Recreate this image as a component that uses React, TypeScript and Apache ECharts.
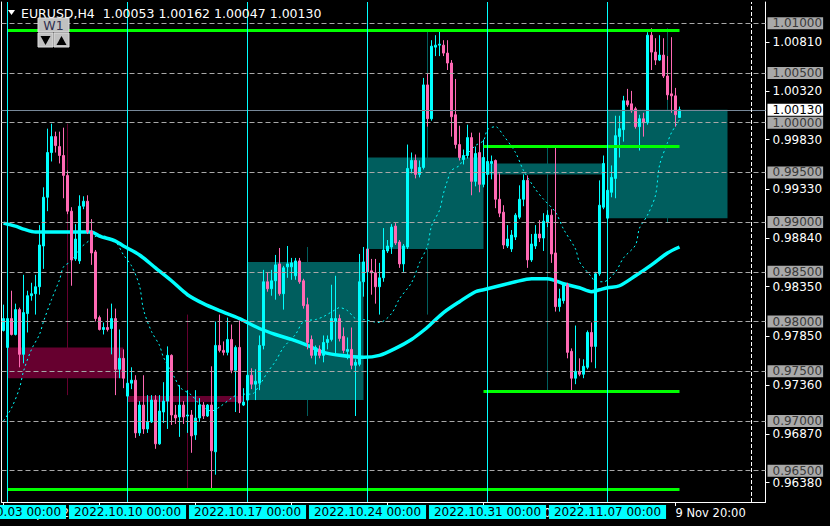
import React, { useEffect, useRef } from 'react';
import * as echarts from 'echarts';

const FONT = '"DejaVu Sans", Verdana, sans-serif';

// slot indices on the time axis (H4 bars, plus empty space on the right)
const slotCount = 191;
const slots = Array.from({ length: slotCount }, (_, i) => String(i));

// H4 candles: [open, close, low, high], first bar 30 Sep 20:00
const candles: number[][] = [
  [0.9791, 0.9803, 0.979, 0.9817],
  [0.9774, 0.9803, 0.9773, 0.9805], [0.9803, 0.9787, 0.9786, 0.9831], [0.9787, 0.9812, 0.9786, 0.9818],
  [0.9812, 0.9767, 0.9754, 0.9814], [0.9767, 0.9809, 0.9758, 0.9847], [0.9808, 0.9826, 0.9789, 0.9831],
  [0.9826, 0.9828, 0.9821, 0.9839], [0.9828, 0.9835, 0.9807, 0.9847], [0.9835, 0.9877, 0.9827, 0.9897],
  [0.9876, 0.9925, 0.9853, 0.9935], [0.9925, 0.997, 0.9911, 0.9994], [0.997, 0.9986, 0.9961, 0.9999],
  [0.9986, 0.9977, 0.997, 0.9991], [0.9976, 0.9967, 0.9959, 0.9991], [0.9967, 0.9947, 0.9924, 0.9995],
  [0.9947, 0.9911, 0.9908, 0.9952], [0.9911, 0.9862, 0.9836, 0.9915], [0.9863, 0.9883, 0.9861, 0.9898],
  [0.9861, 0.9916, 0.9858, 0.9927], [0.9916, 0.9921, 0.9913, 0.9926], [0.9921, 0.989, 0.9888, 0.9927],
  [0.9891, 0.9869, 0.9857, 0.9903], [0.987, 0.9803, 0.98, 0.9872], [0.9804, 0.9792, 0.9791, 0.9806],
  [0.9792, 0.9794, 0.9787, 0.9799], [0.9794, 0.9792, 0.979, 0.9813], [0.9793, 0.9803, 0.9767, 0.9818],
  [0.9803, 0.9752, 0.9726, 0.9813], [0.9752, 0.9763, 0.9743, 0.9792], [0.9763, 0.9743, 0.9733, 0.9772],
  [0.9725, 0.9738, 0.9722, 0.9745], [0.9738, 0.9741, 0.9732, 0.9754], [0.9741, 0.9688, 0.9683, 0.9746],
  [0.9688, 0.9716, 0.9685, 0.972], [0.9716, 0.9692, 0.9687, 0.9746], [0.9692, 0.9699, 0.9688, 0.9726],
  [0.9699, 0.9721, 0.9698, 0.9726], [0.9721, 0.9677, 0.9672, 0.9726], [0.9677, 0.971, 0.9676, 0.9726],
  [0.9709, 0.972, 0.9698, 0.9739], [0.972, 0.9766, 0.9692, 0.9775], [0.9766, 0.9706, 0.9696, 0.9767],
  [0.9706, 0.9703, 0.9697, 0.9716], [0.9704, 0.9716, 0.9684, 0.9736], [0.9716, 0.9704, 0.9697, 0.972],
  [0.9705, 0.9706, 0.9688, 0.9731], [0.9706, 0.9685, 0.9668, 0.9711], [0.9686, 0.9703, 0.9681, 0.9731],
  [0.9703, 0.9716, 0.9699, 0.9723], [0.9716, 0.9705, 0.9702, 0.9719], [0.9705, 0.9716, 0.9704, 0.9717],
  [0.9716, 0.967, 0.9632, 0.9755], [0.9669, 0.9776, 0.9646, 0.98], [0.9776, 0.9771, 0.9769, 0.9807],
  [0.9771, 0.9769, 0.9766, 0.978], [0.9769, 0.9782, 0.9766, 0.9804], [0.9782, 0.9751, 0.9748, 0.9797],
  [0.9751, 0.9774, 0.9709, 0.9776], [0.9774, 0.9718, 0.9708, 0.9801], [0.9716, 0.9719, 0.9715, 0.9733],
  [0.9721, 0.9746, 0.9714, 0.9752], [0.9746, 0.9737, 0.9732, 0.9753], [0.9737, 0.974, 0.9721, 0.9752],
  [0.9738, 0.9776, 0.9731, 0.9786], [0.9776, 0.984, 0.9772, 0.9852], [0.984, 0.9833, 0.983, 0.9849],
  [0.9833, 0.9841, 0.9826, 0.9852], [0.9841, 0.9857, 0.9822, 0.9867], [0.9858, 0.9828, 0.9826, 0.9874],
  [0.9828, 0.9854, 0.9812, 0.9856], [0.9855, 0.9858, 0.9844, 0.9876], [0.9855, 0.9859, 0.9842, 0.9864],
  [0.9846, 0.9861, 0.9842, 0.9864], [0.9861, 0.984, 0.9838, 0.9864], [0.9841, 0.9816, 0.9813, 0.9843],
  [0.9817, 0.9779, 0.9772, 0.9824], [0.9782, 0.9766, 0.9763, 0.9786], [0.9766, 0.9774, 0.9757, 0.9776],
  [0.9772, 0.9766, 0.9763, 0.9776], [0.9766, 0.9779, 0.9759, 0.9786], [0.9779, 0.9782, 0.9772, 0.9786],
  [0.9782, 0.9803, 0.978, 0.9837], [0.98, 0.9803, 0.9768, 0.9846], [0.9803, 0.9783, 0.978, 0.9807],
  [0.9785, 0.9771, 0.9768, 0.9794], [0.977, 0.9772, 0.9762, 0.9784], [0.9772, 0.9756, 0.9752, 0.9794],
  [0.9756, 0.9759, 0.9705, 0.9762], [0.9757, 0.984, 0.9755, 0.9868], [0.984, 0.986, 0.9825, 0.9875],
  [0.9873, 0.985, 0.9848, 0.9876], [0.9851, 0.9849, 0.9827, 0.9863], [0.9849, 0.9835, 0.9818, 0.9863],
  [0.9835, 0.9844, 0.9807, 0.9859], [0.9844, 0.9872, 0.984, 0.9894], [0.9871, 0.9876, 0.9869, 0.9882],
  [0.9875, 0.9895, 0.9868, 0.9898], [0.9896, 0.9879, 0.9877, 0.9899], [0.988, 0.9858, 0.9854, 0.9882],
  [0.9858, 0.9876, 0.985, 0.9878], [0.9875, 0.9954, 0.9873, 0.9978], [0.9954, 0.9962, 0.9949, 0.997],
  [0.9962, 0.9948, 0.9944, 0.9968], [0.9948, 0.9955, 0.9945, 0.9962], [0.9955, 1.0038, 0.9953, 1.0045],
  [1.0038, 1.0004, 0.9996, 1.0049], [1.0004, 1.0077, 1.0002, 1.0083], [1.0076, 1.0078, 1.0067, 1.0088],
  [1.0078, 1.0079, 1.0067, 1.0093], [1.0078, 1.007, 1.0067, 1.0083], [1.007, 1.006, 1.0053, 1.0083],
  [1.006, 1.0006, 0.9986, 1.0063], [1.0008, 0.9978, 0.9974, 1.0044], [0.9978, 0.9965, 0.9962, 0.9997],
  [0.9963, 0.9967, 0.9958, 0.9973], [0.9967, 0.9985, 0.9964, 0.9998], [0.9985, 0.9941, 0.9927, 0.999],
  [0.9941, 0.9969, 0.9936, 0.9976], [0.997, 0.9938, 0.993, 0.999], [0.9938, 0.9965, 0.9935, 0.9983],
  [0.9948, 0.9961, 0.9943, 0.9967], [0.9959, 0.9961, 0.9943, 0.9967], [0.9962, 0.9923, 0.9914, 0.9963],
  [0.9923, 0.9909, 0.9905, 0.9949], [0.991, 0.9877, 0.9873, 0.9917], [0.9876, 0.9883, 0.9874, 0.9897],
  [0.9873, 0.9887, 0.987, 0.9892], [0.9885, 0.9907, 0.9882, 0.9909], [0.9905, 0.9923, 0.9903, 0.9937],
  [0.9923, 0.9942, 0.9916, 0.9948], [0.9942, 0.9862, 0.9854, 0.9947], [0.9862, 0.9878, 0.986, 0.9888],
  [0.9876, 0.9888, 0.9873, 0.9897], [0.9888, 0.9884, 0.988, 0.9902], [0.9884, 0.9901, 0.9871, 0.9909],
  [0.99, 0.9907, 0.9895, 0.9912], [0.9907, 0.9868, 0.9859, 0.9913], [0.9869, 0.9815, 0.981, 0.9976],
  [0.9815, 0.9823, 0.981, 0.9833], [0.9821, 0.9837, 0.9818, 0.9838], [0.9837, 0.9769, 0.9763, 0.9839],
  [0.977, 0.9743, 0.9731, 0.9773], [0.9743, 0.975, 0.9737, 0.9796], [0.975, 0.9747, 0.9745, 0.9763],
  [0.9747, 0.9755, 0.9743, 0.9762], [0.9754, 0.9789, 0.9752, 0.9791], [0.9789, 0.9775, 0.9759, 0.9799],
  [0.9775, 0.9848, 0.9753, 0.985], [0.9848, 0.9917, 0.9846, 0.9942], [0.9915, 0.9959, 0.9913, 0.9967],
  [0.9904, 0.9932, 0.99, 0.9935], [0.993, 0.9945, 0.9925, 0.9957], [0.9944, 0.9987, 0.9924, 1.0007],
  [0.9986, 0.9994, 0.9965, 1.0007], [0.9993, 1.0022, 0.9981, 1.0027], [1.0022, 1.0018, 1.0016, 1.0034],
  [1.0019, 1.0012, 1.001, 1.0032], [1.0014, 0.9996, 0.9994, 1.0016], [0.9996, 1.0004, 0.9972, 1.0008],
  [1.0004, 1.0, 0.9986, 1.001], [1.0, 1.0088, 0.9998, 1.0091], [1.0088, 1.0071, 1.0053, 1.0095],
  [1.0071, 1.0063, 1.0058, 1.0085], [1.0063, 1.0068, 1.0062, 1.0088], [1.0068, 1.0047, 1.0045, 1.0085],
  [1.0047, 1.0028, 1.0023, 1.0067], [1.0029, 1.0027, 1.001, 1.0086], [1.0027, 1.0008, 0.9996, 1.0035],
  [1.00053, 1.0013, 1.00047, 1.00162],
];

// weekly candles overlay: [firstSlot, lastSlot, open, close, high, low]
const weekly: number[][] = [
  [1, 30, 0.9774, 0.9743, 0.9999, 0.9726],
  [31, 60, 0.9725, 0.9719, 0.9807, 0.9632],
  [61, 90, 0.9721, 0.986, 0.9875, 0.9705],
  [91, 120, 0.9873, 0.9965, 1.0093, 0.9807],
  [121, 150, 0.9948, 0.9959, 0.9976, 0.9731],
  [151, 181, 0.9904, 1.0013, 1.0095, 0.99],
];

// slow moving average (thick), sampled as [slot, value]
const maSlow: number[][] = [
  [0, 0.9899], [3, 0.9896], [5, 0.9893], [8, 0.989], [14, 0.989], [22, 0.989], [24, 0.9886],
  [28, 0.9881], [30, 0.9876], [34, 0.9867], [38, 0.9854], [42, 0.9841], [46, 0.9827], [50, 0.9818],
  [54, 0.9811], [59, 0.9803], [64, 0.9793], [68, 0.9787], [72, 0.9782], [76, 0.9776], [80, 0.9769],
  [84, 0.9766], [90, 0.9764], [94, 0.9766], [98, 0.9773], [102, 0.9782], [105, 0.9791], [107, 0.9798],
  [110, 0.9809], [114, 0.982], [118, 0.983], [120, 0.9832], [124, 0.9836], [128, 0.984], [132, 0.9843],
  [136, 0.9843], [140, 0.9838], [144, 0.9834], [147, 0.983], [149, 0.9832], [151, 0.9834], [154, 0.9836],
  [158, 0.9846], [162, 0.9857], [166, 0.9869], [169, 0.9875],
];

// fast moving average (dotted), sampled as [slot, value]
const maFast: number[][] = [
  [0, 0.97], [2, 0.9713], [4, 0.9733], [5, 0.975], [7, 0.9772], [9, 0.9787], [10, 0.98], [12, 0.9822],
  [14, 0.9842], [15, 0.9855], [17, 0.9861], [19, 0.9873], [22, 0.9883], [24, 0.9887], [28, 0.988],
  [30, 0.9867], [32, 0.9856], [34, 0.9836], [35, 0.9812], [37, 0.979], [39, 0.9776], [40, 0.9764],
  [43, 0.9742], [44, 0.9734], [47, 0.9726], [49, 0.9717], [52, 0.971], [54, 0.9714], [57, 0.9723],
  [59, 0.9727], [62, 0.9727], [64, 0.9736], [66, 0.9749], [68, 0.976], [70, 0.9774], [73, 0.9787],
  [75, 0.98], [78, 0.9802], [80, 0.9805], [83, 0.9812], [84, 0.9814], [86, 0.9811], [88, 0.9803],
  [90, 0.9802], [94, 0.9799], [97, 0.9808], [99, 0.9823], [102, 0.9839], [104, 0.9859], [106, 0.9876],
  [107, 0.9896], [109, 0.9912], [110, 0.9929], [111, 0.9942], [112, 0.9952], [114, 0.9957], [115, 0.9964],
  [118, 0.9977], [120, 0.9982], [121, 0.9993], [123, 0.9996], [125, 0.9987], [128, 0.997], [130, 0.9952],
  [133, 0.9933], [135, 0.9923], [138, 0.991], [140, 0.9893], [143, 0.9873], [144, 0.986], [147, 0.9845],
  [148, 0.984], [150, 0.984], [153, 0.985], [155, 0.9864], [158, 0.9877], [159, 0.9894], [161, 0.9907],
  [163, 0.9927], [164, 0.9957], [166, 0.998], [167, 0.999], [169, 1.0003],
];

// horizontal level lines (grey dashed, labelled) and price axis ticks
const levelPrices = [1.01, 1.005, 1.0, 0.995, 0.99, 0.985, 0.98, 0.975, 0.97, 0.965];
const priceTicks = [1.0081, 1.0032, 0.9983, 0.9933, 0.9884, 0.9835, 0.9785, 0.9736, 0.9687, 0.9638];
const bidPrice = 1.0013;

// green range lines: [fromSlot, toSlot, price]
const greenLines: number[][] = [
  [1, 169, 1.0093],
  [1, 169, 0.9631],
  [120, 169, 0.9976],
  [120, 169, 0.973],
];

// time axis ticks
const timeTickSlots = [0, 24, 48, 72, 96, 120, 144, 168];
const timeTickLabels = ['30 Sep 2022', '6 Oct 20:00', '12 Oct 20:00', '18 Oct 20:00', '24 Oct 20:00', '28 Oct 20:00', '3 Nov 20:00', '9 Nov 20:00'];

// weekly separators
const weekLineSlots = [1, 31, 61, 91, 121, 151];
const weekLineLabels = ['2022.10.03 00:00', '2022.10.10 00:00', '2022.10.17 00:00', '2022.10.24 00:00', '2022.10.31 00:00', '2022.11.07 00:00'];
const shiftLineSlot = 187;

const headerText = 'EURUSD,H4  1.00053 1.00162 1.00047 1.00130';

const Y_MIN = 0.96185;
const Y_MAX = 1.01214;

export default function App() {
  const ref = useRef<HTMLDivElement>(null);
  useEffect(() => {
    if (!ref.current) return;
    const chart = echarts.init(ref.current, undefined, { renderer: 'svg' });
    const labelBase = { fontFamily: FONT, fontSize: 12 };
    const option: any = {
      animation: false,
      backgroundColor: '#000000',
      grid: { left: 1.5, top: 2, width: 764, height: 500 },
      xAxis: {
        type: 'category',
        data: slots,
        boundaryGap: true,
        axisLine: { show: true, lineStyle: { color: '#ffffff', width: 1 } },
        axisTick: {
          show: true,
          alignWithLabel: true,
          length: 4,
          interval: (i: number) => timeTickSlots.includes(i),
          lineStyle: { color: '#ffffff' },
        },
        axisLabel: {
          show: true,
          interval: (i: number) => timeTickSlots.includes(i),
          formatter: (_v: string, i: number) => timeTickLabels[timeTickSlots.indexOf(i)] || '',
          color: '#ffffff',
          align: 'left',
          margin: 5,
          ...labelBase,
          fontSize: 11.5,
        },
        splitLine: { show: false },
      },
      yAxis: [
        {
          type: 'value',
          position: 'right',
          min: Y_MIN,
          max: Y_MAX,
          scale: true,
          axisLine: { show: true, lineStyle: { color: '#ffffff' } },
          axisTick: { show: true, length: 4, customValues: priceTicks, lineStyle: { color: '#ffffff' } },
          axisLabel: {
            show: true,
            customValues: priceTicks,
            formatter: (v: number) => v.toFixed(5),
            color: '#ffffff',
            margin: 7,
            ...labelBase,
          },
          splitLine: { show: false },
        },
        {
          type: 'value',
          position: 'left',
          min: Y_MIN,
          max: Y_MAX,
          scale: true,
          axisLine: { show: true, lineStyle: { color: '#ffffff' } },
          axisTick: { show: false },
          axisLabel: { show: false },
          splitLine: { show: false },
        },
      ],
      series: [
        {
          type: 'custom',
          name: 'W1',
          z: 1,
          silent: true,
          clip: false,
          encode: { x: [0, 1], y: [2, 3, 4, 5] },
          data: weekly,
          renderItem: (_p: any, api: any) => {
            const s = api.value(0);
            const e = api.value(1);
            const o = api.value(2);
            const c = api.value(3);
            const h = api.value(4);
            const l = api.value(5);
            const mid = Math.ceil((s + e) / 2);
            const color = c >= o ? '#005e5e' : '#66002f';
            const a = api.coord([s, Math.max(o, c)]);
            const b = api.coord([e, Math.min(o, c)]);
            const ph = api.coord([mid, h]);
            const pl = api.coord([mid, l]);
            return {
              type: 'group',
              children: [
                { type: 'line', shape: { x1: ph[0], y1: ph[1], x2: pl[0], y2: pl[1] }, style: { stroke: color, lineWidth: 1 } },
                { type: 'rect', shape: { x: a[0], y: a[1], width: b[0] - a[0], height: Math.max(1, b[1] - a[1]) }, style: { fill: color } },
              ],
            };
          },
        },
        {
          type: 'line',
          name: 'levels',
          z: 2,
          data: [],
          markLine: {
            silent: true,
            symbol: 'none',
            precision: 5,
            lineStyle: { color: '#a8a8a8', type: [5, 3], width: 1 },
            label: {
              show: true,
              position: 'end',
              distance: 2,
              formatter: (p: any) => Number(p.value).toFixed(5),
              backgroundColor: '#a9a9a9',
              color: '#3a3a3a',
              padding: [0, 1, 0, 5],
              lineHeight: 12,
              ...labelBase,
            },
            data: levelPrices.map((v) => ({ yAxis: v })),
          },
        },
        {
          type: 'line',
          name: 'MA slow',
          z: 3,
          data: maSlow,
          showSymbol: false,
          smooth: 0.3,
          silent: true,
          lineStyle: { color: '#00ffff', width: 3.5 },
        },
        {
          type: 'line',
          name: 'MA fast',
          z: 3,
          data: maFast,
          showSymbol: false,
          smooth: 0.3,
          silent: true,
          lineStyle: { color: '#00ffff', width: 1, type: [2, 3] },
        },
        {
          type: 'candlestick',
          name: 'EURUSD',
          z: 4,
          silent: true,
          barWidth: 2,
          data: candles,
          itemStyle: {
            color: '#00ffff',
            color0: '#ff69b4',
            borderColor: '#00ffff',
            borderColor0: '#ff69b4',
            borderColorDoji: '#00ffff',
            borderWidth: 1,
          },
        },
        {
          type: 'line',
          name: 'objects',
          z: 5,
          data: [],
          markLine: {
            silent: true,
            symbol: 'none',
            precision: 5,
            data: [
              ...greenLines.map((g) => [
                { coord: [g[0], g[2]], lineStyle: { color: '#00ff00', width: 3, type: 'solid' }, label: { show: false } },
                { coord: [g[1], g[2]] },
              ]),
              {
                yAxis: bidPrice,
                lineStyle: { color: '#778899', width: 1, type: 'solid' },
                label: {
                  show: true,
                  position: 'end',
                  distance: 2,
                  formatter: (p: any) => Number(p.value).toFixed(5),
                  backgroundColor: '#ffffff',
                  color: '#000000',
                  padding: [0, 1, 0, 5],
                  lineHeight: 12,
                  ...labelBase,
                },
              },
              ...weekLineSlots.map((s, k) => ({
                xAxis: s,
                name: weekLineLabels[k],
                lineStyle: { color: '#00ffff', width: 1, type: 'solid' },
                label: {
                  show: true,
                  position: 'start',
                  distance: 3,
                  formatter: '{b}',
                  backgroundColor: '#00ffff',
                  color: '#000000',
                  padding: [1, 5, 1, 5],
                  lineHeight: 12,
                  ...labelBase,
                },
              })),
              {
                xAxis: shiftLineSlot,
                lineStyle: { color: '#ffffff', width: 1, type: [4, 2] },
                label: { show: false },
              },
            ],
          },
        },
      ],
      graphic: [
        { type: 'polygon', z: 100, shape: { points: [[8, 10], [15, 10], [11.5, 15]] }, style: { fill: '#ffffff' } },
        {
          type: 'text', z: 100, x: 21, y: 13,
          style: { text: headerText, fill: '#ffffff', fontSize: 12.5, fontFamily: FONT, verticalAlign: 'middle' },
        },
        { type: 'rect', z: 100, shape: { x: 38, y: 18, width: 31, height: 14 }, style: { fill: '#c0c0c0', stroke: '#dcdcdc', lineWidth: 1 } },
        {
          type: 'text', z: 101, x: 53.5, y: 25.5,
          style: { text: 'W1', fill: '#303050', fontSize: 12.5, fontFamily: FONT, align: 'center', verticalAlign: 'middle' },
        },
        { type: 'rect', z: 100, shape: { x: 38, y: 33, width: 15, height: 14 }, style: { fill: '#c0c0c0', stroke: '#dcdcdc', lineWidth: 1 } },
        { type: 'rect', z: 100, shape: { x: 54, y: 33, width: 15, height: 14 }, style: { fill: '#c0c0c0', stroke: '#dcdcdc', lineWidth: 1 } },
        { type: 'polygon', z: 101, shape: { points: [[40.5, 36], [50.5, 36], [45.5, 45]] }, style: { fill: '#000000' } },
        { type: 'polygon', z: 101, shape: { points: [[56.5, 45], [66.5, 45], [61.5, 36]] }, style: { fill: '#000000' } },
      ],
    };
    chart.setOption(option);
    return () => chart.dispose();
  }, []);
  return (
    <div
      ref={ref}
      style={{ position: 'fixed', left: 0, top: 0, width: 830, height: 526, background: '#000000' }}
    />
  );
}
